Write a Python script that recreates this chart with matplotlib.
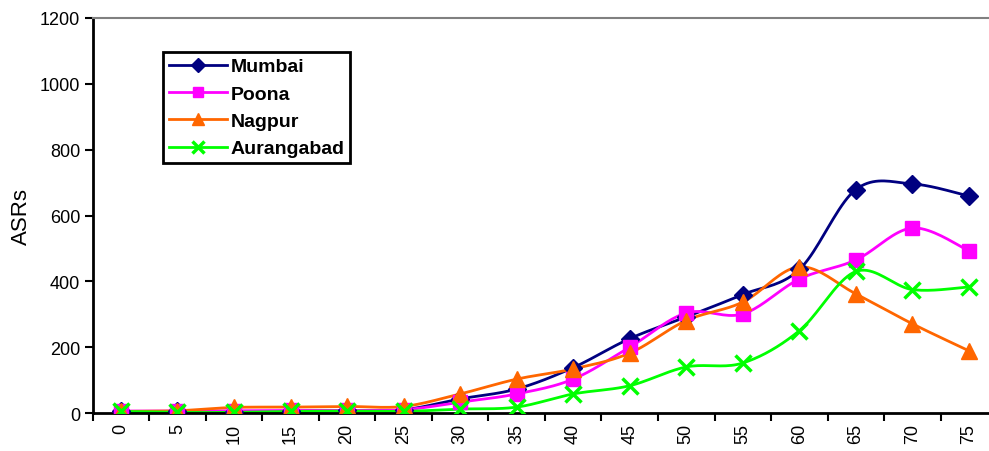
import numpy as np
import matplotlib
matplotlib.use("Agg")
import matplotlib.pyplot as plt

plt.rcParams['font.family'] = ['Liberation Sans', 'DejaVu Sans']

ages = ['0', '5', '10', '15', '20', '25', '30', '35', '40', '45', '50', '55', '60', '65', '70', '75']
mumbai = [5, 5, 4, 5, 8, 10, 43, 73, 138, 226, 292, 360, 436, 679, 696, 659]
poona = [6, 6, 7, 8, 8, 10, 33, 58, 103, 200, 304, 301, 407, 465, 562, 493]
nagpur = [5, 7, 17, 18, 20, 20, 58, 103, 134, 182, 281, 337, 444, 362, 271, 189]
aurangabad = [5, 2, 2, 5, 6, 5, 12, 18, 58, 83, 140, 152, 250, 430, 375, 383]

series = [
    ('Mumbai', mumbai, '#000080', 'D', 9.5),
    ('Poona', poona, '#FF00FF', 's', 10),
    ('Nagpur', nagpur, '#FF6600', '^', 11),
    ('Aurangabad', aurangabad, '#00FF00', 'x', 11),
]


def smooth(x, y, n=20):
    # catmull-rom curve through the points, like a spreadsheet "smoothed line"
    x = np.asarray(x, float)
    y = np.asarray(y, float)
    px = np.concatenate([[x[0]], x, [x[-1]]])
    py = np.concatenate([[y[0]], y, [y[-1]]])
    xs, ys = [], []
    t = np.linspace(0, 1, n, endpoint=False)
    for i in range(1, len(px) - 2):
        for p, out in ((px, xs), (py, ys)):
            p0, p1, p2, p3 = p[i - 1], p[i], p[i + 1], p[i + 2]
            c1 = p1 + (p2 - p0) / 6
            c2 = p2 - (p3 - p1) / 6
            out.extend((1 - t) ** 3 * p1 + 3 * (1 - t) ** 2 * t * c1
                       + 3 * (1 - t) * t ** 2 * c2 + t ** 3 * p2)
    xs.append(x[-1])
    ys.append(y[-1])
    return np.array(xs), np.array(ys)


fig = plt.figure(figsize=(9.89, 4.52), dpi=100)
ax = fig.add_axes([0.0937, 0.084, 0.9146, 0.874])

xpos = np.arange(len(ages))
for name, vals, col, mk, ms in series:
    sx, sy = smooth(xpos, vals)
    ax.plot(sx, sy, color=col, lw=2.0, zorder=2)
    ax.plot(xpos, vals, linestyle='none', marker=mk, color=col, markersize=ms,
            markeredgewidth=2.5 if mk == 'x' else 1, zorder=3)
    # legend proxy
    ax.plot([], [], color=col, lw=2.0, marker=mk, markersize=ms * 0.75,
            markeredgewidth=2.5 if mk == 'x' else 1, label=name)

ax.set_xlim(-0.5, 15.5)
ax.set_ylim(0, 1200)
ax.set_yticks(range(0, 1201, 200))
ax.set_xticks(xpos)
ax.set_xticklabels(ages, rotation=90)
ax.set_xticks(np.arange(-0.5, 16, 1), minor=True)
ax.tick_params(axis='x', which='major', length=0, pad=7, labelsize=13)
ax.tick_params(axis='x', which='minor', length=6, width=1.5, direction='out')
ax.tick_params(axis='y', length=6, width=1.5, direction='out', labelsize=13, pad=3)
ax.set_ylabel('ASRs', fontsize=16, labelpad=6)

ax.spines['right'].set_visible(False)
ax.spines['top'].set_color('#808080')
ax.spines['top'].set_linewidth(1.5)
ax.spines['left'].set_linewidth(2)
ax.spines['bottom'].set_linewidth(2)

leg = ax.legend(loc='upper left', bbox_to_anchor=(0.165, 0.883),
                bbox_transform=fig.transFigure, fancybox=False, frameon=True,
                edgecolor='black', framealpha=1, handlelength=3.0,
                handletextpad=0.15, labelspacing=0.5, borderpad=0.3,
                borderaxespad=0, prop={'weight': 'bold', 'size': 14})
leg.get_frame().set_linewidth(2)

fig.savefig('out.png', dpi=100)
